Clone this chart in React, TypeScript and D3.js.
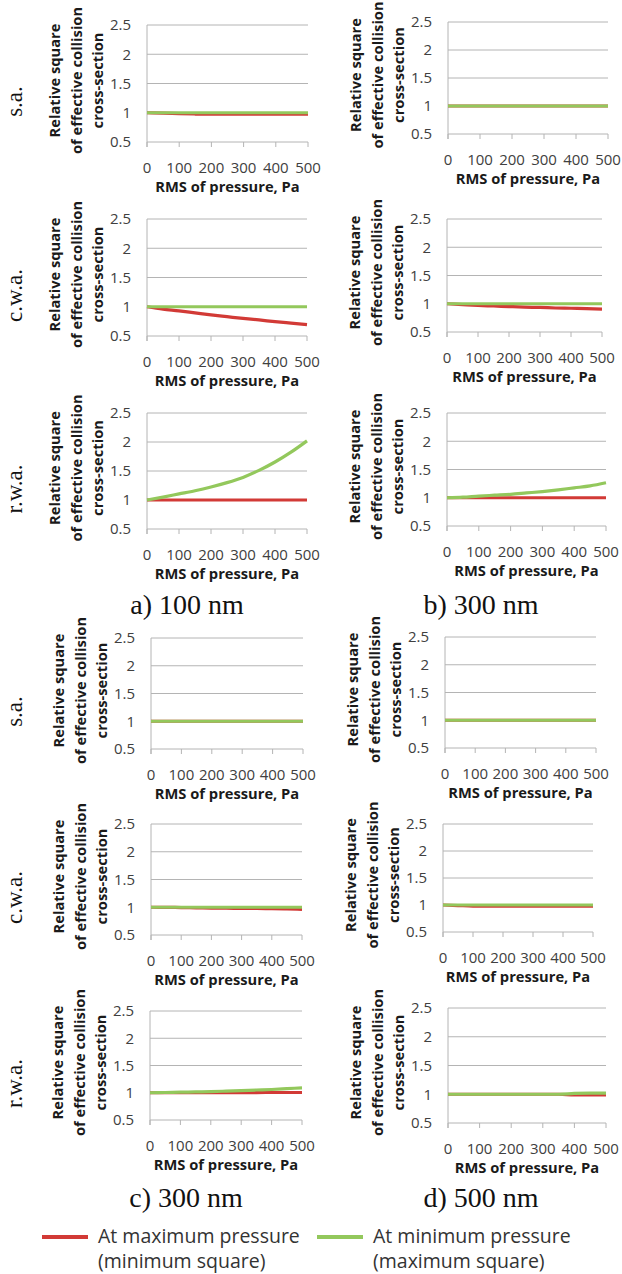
import React from 'react';
import * as d3 from 'd3';

// ---------- data ----------
const pressure = [0, 50, 100, 150, 200, 250, 300, 350, 400, 450, 500];
const xTicks = [0, 100, 200, 300, 400, 500];
const yTicks = [0.5, 1, 1.5, 2, 2.5];
const rowLabels = ['s.a.', 'c.w.a.', 'r.w.a.'];
const captions = ['a) 100 nm', 'b) 300 nm', 'c) 300 nm', 'd) 500 nm'];
const legendLine1 = ['At maximum pressure', 'At minimum pressure'];
const legendLine2 = ['(minimum square)', '(maximum square)'];
const yTitleLines = ['Relative square', 'of effective collision', 'cross-section'];
const xTitle = 'RMS of pressure, Pa';

// a) 100 nm
const maxP_sa_100 = [1.0, 0.995, 0.985, 0.978, 0.975, 0.975, 0.975, 0.975, 0.975, 0.975, 0.975];
const minP_sa_100 = [1.0, 1.0, 1.0, 1.0, 1.0, 1.0, 1.0, 1.0, 1.0, 1.0, 1.0];
const maxP_cwa_100 = [1.0, 0.96, 0.93, 0.895, 0.86, 0.83, 0.8, 0.775, 0.745, 0.72, 0.695];
const minP_cwa_100 = [1.0, 1.0, 1.0, 1.0, 1.0, 1.0, 1.0, 1.0, 1.0, 1.0, 1.0];
const maxP_rwa_100 = [1.0, 1.0, 1.0, 1.0, 1.0, 1.0, 1.0, 1.0, 1.0, 1.0, 1.0];
const minP_rwa_100 = [1.0, 1.05, 1.105, 1.16, 1.225, 1.3, 1.39, 1.51, 1.655, 1.825, 2.02];
// b) 300 nm
const maxP_sa_300b = [1.0, 1.0, 1.0, 1.0, 1.0, 1.0, 1.0, 1.0, 1.0, 1.0, 1.0];
const minP_sa_300b = [1.0, 1.0, 1.0, 1.0, 1.0, 1.0, 1.0, 1.0, 1.0, 1.0, 1.0];
const maxP_cwa_300b = [1.0, 0.985, 0.97, 0.96, 0.95, 0.94, 0.935, 0.925, 0.92, 0.915, 0.905];
const minP_cwa_300b = [1.0, 1.0, 1.0, 1.0, 1.0, 1.0, 1.0, 1.0, 1.0, 1.0, 1.0];
const maxP_rwa_300b = [1.0, 1.0, 1.0, 1.0, 1.0, 1.0, 1.0, 1.0, 1.0, 1.0, 1.0];
const minP_rwa_300b = [1.0, 1.01, 1.03, 1.045, 1.06, 1.085, 1.11, 1.14, 1.175, 1.21, 1.265];
// c) 300 nm
const maxP_sa_300c = [1.0, 1.0, 1.0, 1.0, 1.0, 1.0, 1.0, 1.0, 1.0, 1.0, 1.0];
const minP_sa_300c = [1.0, 1.0, 1.0, 1.0, 1.0, 1.0, 1.0, 1.0, 1.0, 1.0, 1.0];
const maxP_cwa_300c = [1.0, 0.998, 0.995, 0.99, 0.985, 0.983, 0.98, 0.978, 0.975, 0.97, 0.962];
const minP_cwa_300c = [1.0, 1.0, 1.0, 1.0, 1.0, 1.0, 1.0, 1.0, 1.0, 1.0, 1.0];
const maxP_rwa_300c = [1.0, 1.0, 1.0, 1.0, 1.0, 1.0, 1.0, 1.003, 1.005, 1.005, 1.005];
const minP_rwa_300c = [1.0, 1.005, 1.01, 1.015, 1.02, 1.03, 1.04, 1.05, 1.06, 1.075, 1.09];
// d) 500 nm
const maxP_sa_500 = [1.0, 1.0, 1.0, 1.0, 1.0, 1.0, 1.0, 1.0, 1.0, 1.0, 1.0];
const minP_sa_500 = [1.0, 1.0, 1.0, 1.0, 1.0, 1.0, 1.0, 1.0, 1.0, 1.0, 1.0];
const maxP_cwa_500 = [1.0, 0.99, 0.98, 0.98, 0.98, 0.98, 0.98, 0.98, 0.98, 0.98, 0.98];
const minP_cwa_500 = [1.0, 1.0, 1.0, 1.0, 1.0, 1.0, 1.0, 1.0, 1.0, 1.0, 1.0];
const maxP_rwa_500 = [1.0, 1.0, 1.0, 1.0, 1.0, 1.0, 1.0, 1.0, 0.99, 0.99, 0.99];
const minP_rwa_500 = [1.0, 1.0, 1.0, 1.0, 1.0, 1.0, 1.0, 1.0, 1.015, 1.02, 1.02];

// ---------- layout ----------
type Box = { x0: number; x1: number; yTop: number; yBot: number };
const panels: { box: Box; red: number[]; green: number[]; row: number }[] = [
  { box: { x0: 147, x1: 308, yTop: 25, yBot: 142 }, red: maxP_sa_100, green: minP_sa_100, row: 0 },
  { box: { x0: 448, x1: 608, yTop: 22, yBot: 134 }, red: maxP_sa_300b, green: minP_sa_300b, row: -1 },
  { box: { x0: 147, x1: 307, yTop: 219, yBot: 336 }, red: maxP_cwa_100, green: minP_cwa_100, row: 1 },
  { box: { x0: 447, x1: 602, yTop: 219, yBot: 332 }, red: maxP_cwa_300b, green: minP_cwa_300b, row: -1 },
  { box: { x0: 147, x1: 307, yTop: 413, yBot: 529 }, red: maxP_rwa_100, green: minP_rwa_100, row: 2 },
  { box: { x0: 447, x1: 606, yTop: 413, yBot: 526 }, red: maxP_rwa_300b, green: minP_rwa_300b, row: -1 },
  { box: { x0: 151, x1: 303, yTop: 638, yBot: 749 }, red: maxP_sa_300c, green: minP_sa_300c, row: 0 },
  { box: { x0: 445, x1: 596, yTop: 637, yBot: 748 }, red: maxP_sa_500, green: minP_sa_500, row: -1 },
  { box: { x0: 151, x1: 302, yTop: 824, yBot: 935 }, red: maxP_cwa_300c, green: minP_cwa_300c, row: 1 },
  { box: { x0: 443, x1: 593, yTop: 824, yBot: 932 }, red: maxP_cwa_500, green: minP_cwa_500, row: -1 },
  { box: { x0: 150, x1: 302, yTop: 1011, yBot: 1120 }, red: maxP_rwa_300c, green: minP_rwa_300c, row: 2 },
  { box: { x0: 448, x1: 606, yTop: 1008, yBot: 1123 }, red: maxP_rwa_500, green: minP_rwa_500, row: -1 },
];
const captionPos = [
  { x: 187, y: 614 },
  { x: 481, y: 614 },
  { x: 186, y: 1207 },
  { x: 481, y: 1207 },
];

const RED = '#d23a36';
const GREEN = '#93c85c';
const GRID = '#b4b4b4';
const SANS = '"Open Sans", "Noto Sans", sans-serif';
const SERIF = '"Liberation Serif", "Times New Roman", serif';

function Panel({ box, red, green, row }: { box: Box; red: number[]; green: number[]; row: number }) {
  const x = d3.scaleLinear().domain([0, 500]).range([box.x0, box.x1]);
  const y = d3.scaleLinear().domain([0.5, 2.5]).range([box.yBot, box.yTop]);
  const line = d3
    .line<number>()
    .x((_, i) => x(pressure[i]))
    .y((d) => y(d))
    .curve(d3.curveMonotoneX);
  const cy = (box.yTop + box.yBot) / 2;
  const titleOffsets = [-92, -70, -49];
  return (
    <g>
      {yTicks.slice(1).map((t) => (
        <line key={'g' + t} x1={box.x0} x2={box.x1} y1={y(t)} y2={y(t)} stroke={GRID} strokeWidth={1} />
      ))}
      <line x1={box.x0} x2={box.x0} y1={box.yTop} y2={box.yBot + 5} stroke={GRID} strokeWidth={1} />
      <line x1={box.x0} x2={box.x1} y1={box.yBot} y2={box.yBot} stroke={GRID} strokeWidth={1} />
      {xTicks.map((t) => (
        <line key={'t' + t} x1={x(t)} x2={x(t)} y1={box.yBot} y2={box.yBot + 5} stroke={GRID} strokeWidth={1} />
      ))}
      {yTicks.map((t) => (
        <text key={'yl' + t} x={box.x0 - 16} y={y(t)} dy="0.36em" textAnchor="end" fontFamily={SANS} fontSize={15} fill="#404040">
          {String(t)}
        </text>
      ))}
      {xTicks.map((t) => (
        <text key={'xl' + t} x={x(t)} y={box.yBot + 31} textAnchor="middle" fontFamily={SANS} fontSize={15} fill="#404040">
          {String(t)}
        </text>
      ))}
      <text x={(box.x0 + box.x1) / 2} y={box.yBot + 50} textAnchor="middle" fontFamily={SANS} fontWeight="bold" fontSize={14.7} fill="#1a1a1a">
        {xTitle}
      </text>
      {yTitleLines.map((s, i) => (
        <text
          key={s}
          transform={`translate(${box.x0 + titleOffsets[i]},${cy - 3}) rotate(-90)`}
          dy="0.36em"
          textAnchor="middle"
          fontFamily={SANS}
          fontWeight="bold"
          fontSize={14.7}
          fill="#1a1a1a"
        >
          {s}
        </text>
      ))}
      <path d={line(red) || ''} fill="none" stroke={RED} strokeWidth={3.2} />
      <path d={line(green) || ''} fill="none" stroke={GREEN} strokeWidth={3.2} />
      {row >= 0 && (
        <text
          transform={`translate(15,${cy + 18}) rotate(-90)`}
          dy="0.3em"
          textAnchor="middle"
          fontFamily={SERIF}
          fontSize={23}
          fill="#111"
        >
          {rowLabels[row]}
        </text>
      )}
    </g>
  );
}

export default function App() {
  return (
    <svg
      width={622}
      height={1274}
      style={{ position: 'absolute', left: 0, top: 0, background: '#fff' }}
    >
      <rect width={622} height={1274} fill="#fff" />
      {panels.map((p, i) => (
        <Panel key={i} {...p} />
      ))}
      {captions.map((c, i) => (
        <text key={c + i} x={captionPos[i].x} y={captionPos[i].y} textAnchor="middle" fontFamily={SERIF} fontSize={28} fill="#111">
          {c}
        </text>
      ))}
      {[0, 1].map((i) => {
        const lx = i === 0 ? 42 : 317;
        return (
          <g key={'lg' + i}>
            <line x1={lx} x2={lx + 46} y1={1237} y2={1237} stroke={i === 0 ? RED : GREEN} strokeWidth={4} />
            <text x={lx + 56} y={1243} fontFamily={SANS} fontSize={19.5} fill="#333">
              {legendLine1[i]}
            </text>
            <text x={lx + 56} y={1268} fontFamily={SANS} fontSize={19.5} fill="#333">
              {legendLine2[i]}
            </text>
          </g>
        );
      })}
    </svg>
  );
}
